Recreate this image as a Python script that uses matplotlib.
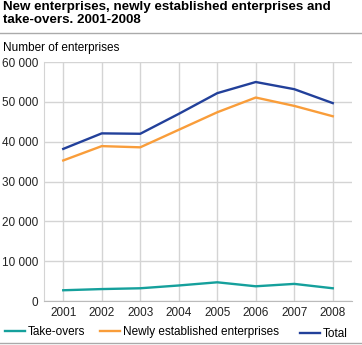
import matplotlib.pyplot as plt
from matplotlib.lines import Line2D

plt.rcParams['font.family'] = ['Liberation Sans', 'DejaVu Sans']

years = [2001, 2002, 2003, 2004, 2005, 2006, 2007, 2008]
take_overs = [2700, 3000, 3200, 3900, 4700, 3700, 4300, 3200]
newly_established = [35300, 38900, 38600, 43000, 47400, 51100, 49000, 46400]
total = [38200, 42100, 42000, 47000, 52200, 55000, 53200, 49700]
y_ticks = [0, 10000, 20000, 30000, 40000, 50000, 60000]

TEAL = "#15a09c"
ORANGE = "#f99d3a"
NAVY = "#22409a"
GRID = "#d4d4d4"
FS = 8.5

fig = plt.figure(figsize=(3.62, 3.45), dpi=100)
ax = fig.add_axes([0.1215, 0.1275, 0.8509, 0.6925])

ax.plot(years, take_overs, color=TEAL, linewidth=1.7)
ax.plot(years, newly_established, color=ORANGE, linewidth=1.7)
ax.plot(years, total, color=NAVY, linewidth=1.7)

ax.set_xlim(2000.5, 2008.5)
ax.set_ylim(0, 60000)
ax.set_xticks(years)
ax.set_xticklabels([str(y) for y in years], fontsize=FS)
ax.set_yticks(y_ticks)
ax.set_yticklabels([f"{v:,}".replace(",", " ") for v in y_ticks], fontsize=FS)
ax.tick_params(length=0, pad=4, colors="#222222")
ax.grid(True, color=GRID, linewidth=1)
ax.set_axisbelow(True)
for side in ["top", "right"]:
    ax.spines[side].set_visible(False)
ax.spines["left"].set_color(GRID)
ax.spines["bottom"].set_color("#bbbbbb")

# title, separators, axis caption
fig.text(0.008, 0.997, "New enterprises, newly established enterprises and\ntake-overs. 2001-2008",
         fontsize=9.6, fontweight="bold", va="top", ha="left", linespacing=1.15)
fig.add_artist(Line2D([0, 1], [0.904, 0.904], color="#aaaaaa", linewidth=1))
fig.add_artist(Line2D([0, 1], [0.005, 0.005], color="#aaaaaa", linewidth=1))
fig.text(0.008, 0.862, "Number of enterprises", fontsize=FS, va="center", ha="left")

# legend entries placed like the reference
entries = [("Take-overs", TEAL, (0.0138, 0.038)),
           ("Newly established enterprises", ORANGE, (0.276, 0.038)),
           ("Total", NAVY, (0.829, 0.032))]
for label, color, pos in entries:
    h = Line2D([], [], color=color, linewidth=1.7)
    fig.legend([h], [label], loc="center left", bbox_to_anchor=pos, frameon=False,
               fontsize=FS, handlelength=1.7, handletextpad=0.25, borderpad=0,
               borderaxespad=0)

fig.savefig("out.png", dpi=100)
